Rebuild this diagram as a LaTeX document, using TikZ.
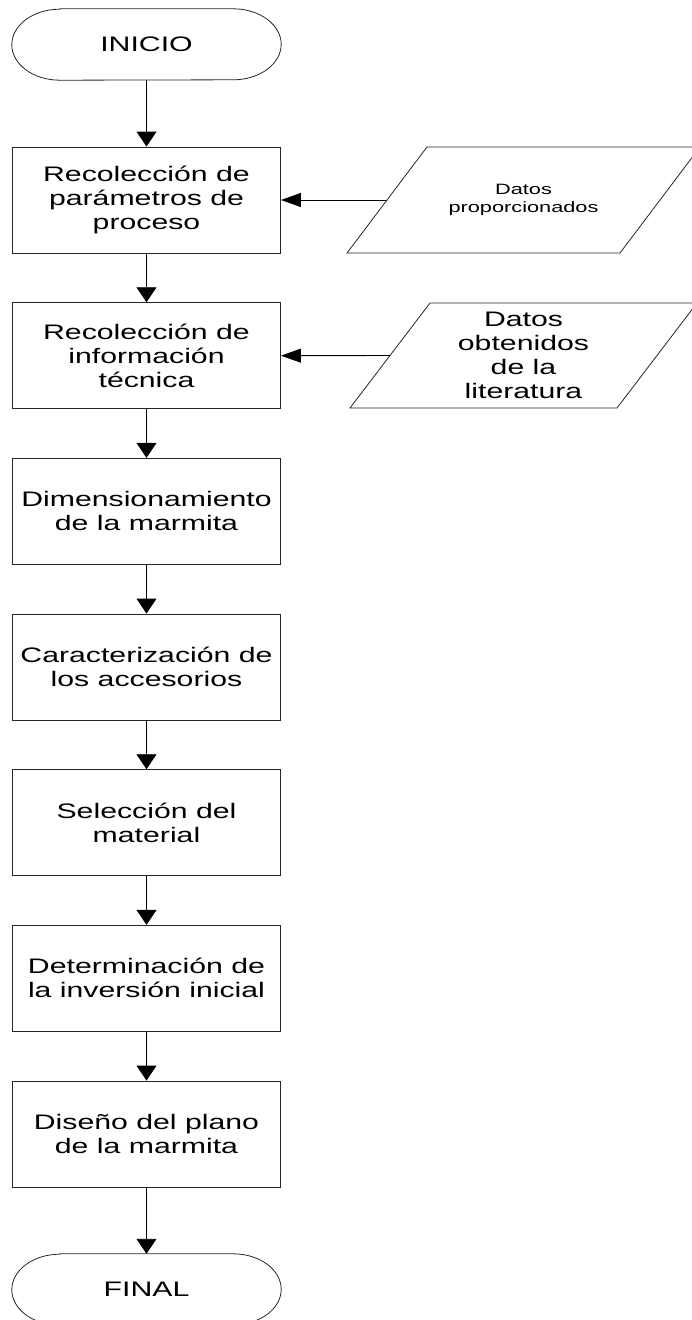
\documentclass[tikz,border=0pt]{standalone}
\usepackage{fontspec}
\usetikzlibrary{arrows.meta,calc}
\newfontfamily\flowfont{Liberation Sans}[FakeStretch=1.44]
\newfontfamily\smallflowfont{Liberation Sans}[FakeStretch=1.45]

\tikzset{
  stepbox/.style={draw=black!85, line width=0.9pt, minimum width=268pt, minimum height=106pt,
    inner sep=0pt, align=center, font=\flowfont\fontsize{21}{24}\selectfont},
  termtext/.style={minimum width=269pt, minimum height=71pt, inner sep=0pt,
    font=\flowfont\fontsize{21}{24}\selectfont},
  datatext/.style={inner sep=0pt, align=center, font=\flowfont\fontsize{21}{24}\selectfont},
  smalldatatext/.style={inner sep=0pt, align=center, font=\smallflowfont\fontsize{15}{18}\selectfont},
  outline/.style={draw=black!85, line width=0.8pt},
  varrow/.style={line width=0.9pt, -{Triangle[length=15pt,width=20pt]}},
  harrow/.style={line width=0.9pt, -{Triangle[length=20pt,width=14pt]}},
}

% stadium outline around a terminal node (y axis points down)
\newcommand{\terminal}[1]{%
  \draw[outline] ($(#1.north west)+(48,0)$) -- ($(#1.north east)+(-48,0)$)
    arc[start angle=-90, end angle=90, x radius=48, y radius=35.5]
    -- ($(#1.south west)+(48,0)$)
    arc[start angle=90, end angle=270, x radius=48, y radius=35.5] -- cycle;}

\begin{document}
\begin{tikzpicture}[x=1pt,y=-1pt]
  \useasboundingbox (0,0) rectangle (692,1320);
  \clip (0,0) rectangle (692,1320);

  % start / end terminals
  \node[termtext] (ini) at (146.5,44.5) {INICIO};
  \terminal{ini}
  \node[termtext] (fin) at (146.5,1289.5) {FINAL};
  \terminal{fin}

  % process steps
  \node[stepbox] (b1) at (146.5,200)    {Recolección de\\parámetros de\\proceso};
  \node[stepbox] (b2) at (146.5,355.7)  {Recolección de\\información\\técnica};
  \node[stepbox] (b3) at (146.5,511.3)  {Dimensionamiento\\de la marmita};
  \node[stepbox] (b4) at (146.5,667)    {Caracterización de\\los accesorios};
  \node[stepbox] (b5) at (146.5,822.7)  {Selección del\\material};
  \node[stepbox] (b6) at (146.5,978.3)  {Determinación de\\la inversión inicial};
  \node[stepbox] (b7) at (146.5,1134)   {Diseño del plano\\de la marmita};

  % input data
  \node[smalldatatext] (p1) at (523.5,200) {Datos\\proporcionados};
  \draw[outline] ($(p1)+(-176.5,53)$) -- ($(p1)+(96.5,53)$)
    -- ($(p1)+(176.5,-53)$) -- ($(p1)+(-96.5,-53)$) -- cycle;
  \coordinate (p1in) at ($(p1)+(-136.5,0)$);

  \node[datatext] (p2) at (523.5,355.5) {Datos\\obtenidos\\de la\\literatura};
  \draw[outline] ($(p2)+(-173.5,52.5)$) -- ($(p2)+(93.5,52.5)$)
    -- ($(p2)+(173.5,-52.5)$) -- ($(p2)+(-93.5,-52.5)$) -- cycle;
  \coordinate (p2in) at ($(p2)+(-133.5,0)$);

  % main flow
  \draw[varrow] (ini.south) -- (b1.north);
  \draw[varrow] (b1.south) -- (b2.north);
  \draw[varrow] (b2.south) -- (b3.north);
  \draw[varrow] (b3.south) -- (b4.north);
  \draw[varrow] (b4.south) -- (b5.north);
  \draw[varrow] (b5.south) -- (b6.north);
  \draw[varrow] (b6.south) -- (b7.north);
  \draw[varrow] (b7.south) -- (fin.north);

  % data inputs
  \draw[harrow] (p1in) -- (b1.east);
  \draw[harrow] (p2in) -- (b2.east);
\end{tikzpicture}
\end{document}
